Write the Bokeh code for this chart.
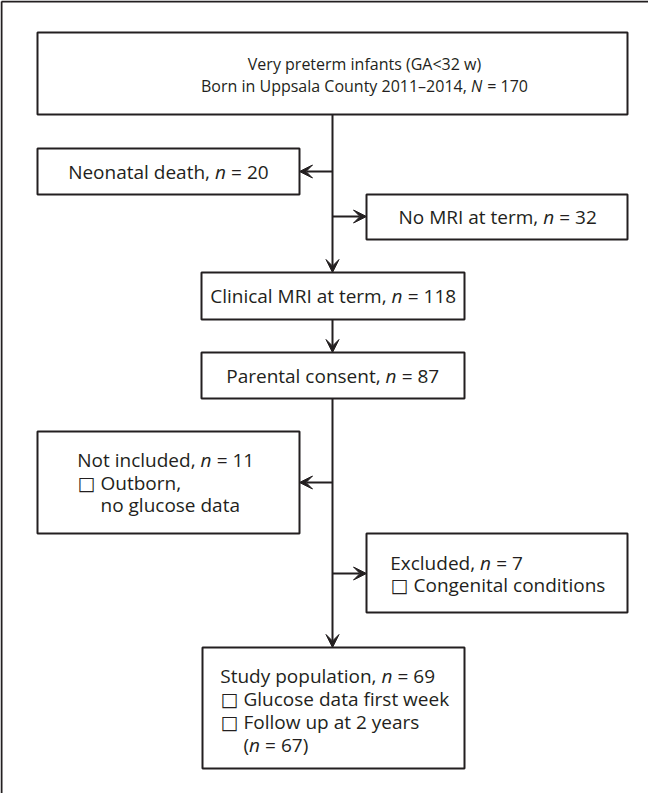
from bokeh.plotting import figure
from bokeh.models import Range1d, Arrow, VeeHead
from bokeh.embed import file_html
from bokeh.resources import INLINE
from bokeh.core.properties import value

# ---------------- data ----------------
source_lines = ["Very preterm infants (GA<32 w)", "Born in Uppsala County 2011\u20132014,"]
source_count = 170
flow_labels = ["Clinical MRI at term", "Parental consent", "Study population"]
flow_counts = [118, 87, 69]
excl_labels = ["Neonatal death", "No MRI at term", "Not included", "Excluded"]
excl_counts = [20, 32, 11, 7]
excl_reasons = [[], [], ["Outborn,", "no glucose data"], ["Congenital conditions"]]
study_items = ["Glucose data first week", "Follow up at 2 years"]
followup_count = 67

# ---------------- style ----------------
INK = "#231f20"
FONT = "Open Sans"
FS = 19
FS_TOP = 16
LW = 2

# approximate Open Sans advance widths (em) for layout of mixed-style lines
WID = {' ': .26, 'a': .556, 'b': .613, 'c': .476, 'd': .613, 'e': .561, 'f': .339, 'g': .548,
       'h': .614, 'i': .253, 'j': .253, 'k': .525, 'l': .253, 'm': .93, 'n': .614, 'o': .604,
       'p': .613, 'q': .613, 'r': .408, 's': .477, 't': .353, 'u': .614, 'v': .501, 'w': .778,
       'x': .524, 'y': .502, 'z': .46, ',': .25, '=': .572, '(': .288, ')': .288, '<': .572,
       '\u2013': .5, 'B': .633, 'C': .631, 'E': .549, 'F': .495, 'G': .726, 'M': .903, 'N': .751,
       'P': .586, 'R': .615, 'S': .539, 'U': .734, 'V': .575, 'A': .633, 'I': .305}
for d in "0123456789":
    WID[d] = .572
ITAL = {'n': .59, 'N': .75}


def tw(s, fs):
    return sum(WID.get(c, .56) for c in s) * fs


p = figure(width=648, height=793, x_range=Range1d(8, 656), y_range=Range1d(801, 8),
           output_backend="svg", toolbar_location=None, min_border=0,
           x_axis_location=None, y_axis_location=None)
p.grid.visible = False
p.outline_line_color = None
p.background_fill_color = "white"
p.border_fill_color = "white"

pieces = {}


def put(x, y, s, align="left", style="normal", fs=FS):
    key = (align, style, fs)
    xs, ys, ts = pieces.setdefault(key, ([], [], []))
    xs.append(x); ys.append(y); ts.append(s)


def count_line(prefix, sym, num, y, cx=None, lx=None, fs=FS):
    """'prefix sym = num' with italic sym"""
    sp = WID[' '] * fs
    rest = "= %d" % num
    wsym = ITAL[sym] * fs
    wpre = tw(prefix, fs)
    if cx is not None:
        total = wpre + sp + wsym + sp + tw(rest, fs)
        x0 = cx - total / 2 + wpre
    else:
        x0 = lx + wpre
    put(x0, y, prefix, "right", fs=fs)
    put(x0 + sp, y, sym, "left", "italic", fs=fs)
    put(x0 + sp + wsym + sp, y, rest, "left", fs=fs)


boxes_l, boxes_r, boxes_t, boxes_b = [], [], [], []


def box(l, r, t, b):
    boxes_l.append(l); boxes_r.append(r); boxes_t.append(t); boxes_b.append(b)


CX = 340
# frame
p.segment(x0=[9, 9], y0=[9, 9], x1=[9, 700], y1=[850, 9], line_color=INK, line_width=LW)

# top box
box(45, 635, 40, 122)
put(372, 71, source_lines[0], "center", fs=FS_TOP)
count_line(source_lines[1], "N", source_count, 93, cx=372, fs=FS_TOP)

# neonatal death
box(45, 307, 156, 202)
count_line(excl_labels[0] + ",", "n", excl_counts[0], 179, cx=176)
# no MRI
box(374, 635, 202, 247)
count_line(excl_labels[1] + ",", "n", excl_counts[1], 224.5, cx=505)
# clinical MRI
box(209, 472, 280, 327)
count_line(flow_labels[0] + ",", "n", flow_counts[0], 303.5, cx=340.5)
# parental consent
box(209, 472, 360, 406)
count_line(flow_labels[1] + ",", "n", flow_counts[1], 383, cx=340.5)

BOXCH = "\u25a1"
chk = {"x": [], "y": []}
IND = 23

# not included
box(45, 307, 439, 541)
lx = 85
count_line(excl_labels[2] + ",", "n", excl_counts[2], 467.5, lx=lx)
chk["x"].append(lx); chk["y"].append(490)
put(lx + IND, 490, excl_reasons[2][0])
put(lx + IND, 512.5, excl_reasons[2][1])

# excluded
box(374, 635, 541, 620)
lx = 398
count_line(excl_labels[3] + ",", "n", excl_counts[3], 570, lx=lx)
chk["x"].append(lx); chk["y"].append(592)
put(lx + IND, 592, excl_reasons[3][0])

# study population
box(210, 472, 655, 776)
lx = 228
count_line(flow_labels[2] + ",", "n", flow_counts[2], 683, lx=lx)
chk["x"] += [lx, lx]; chk["y"] += [706, 729]
put(lx + IND, 706, study_items[0])
put(lx + IND, 729, study_items[1])
x = lx + IND
put(x, 752, "(")
x += tw("(", FS)
put(x, 752, "n", "left", "italic")
x += ITAL['n'] * FS + WID[' '] * FS
put(x, 752, "= %d)" % followup_count)

p.quad(left=boxes_l, right=boxes_r, top=boxes_t, bottom=boxes_b,
       fill_color="white", line_color=INK, line_width=LW)

# connectors
arrows = [((CX, 122), (CX, 280)), ((CX, 179), (307, 179)), ((CX, 224), (374, 224)),
          ((CX, 327), (CX, 360)), ((CX, 406), (CX, 655)), ((CX, 490), (307, 490)),
          ((CX, 581), (374, 581))]
for (xa, ya), (xb, yb) in arrows:
    p.add_layout(Arrow(end=VeeHead(size=13, fill_color=INK, line_color=INK, line_width=1),
                       x_start=xa, y_start=ya, x_end=xb, y_end=yb,
                       line_color=INK, line_width=LW))

for (align, style, fs), (xs, ys, ts) in pieces.items():
    p.text(x=xs, y=ys, text=ts, text_align=align, text_baseline="middle",
           text_font=value(FONT), text_font_size="%dpx" % fs,
           text_font_style=style, text_color=INK)

p.text(x=chk["x"], y=chk["y"], text=[BOXCH] * len(chk["x"]), text_align="left",
       text_baseline="middle", text_font=value("DejaVu Sans"), text_font_size="19px",
       text_color=INK)

open("out.html", "w").write(file_html(p, INLINE))
